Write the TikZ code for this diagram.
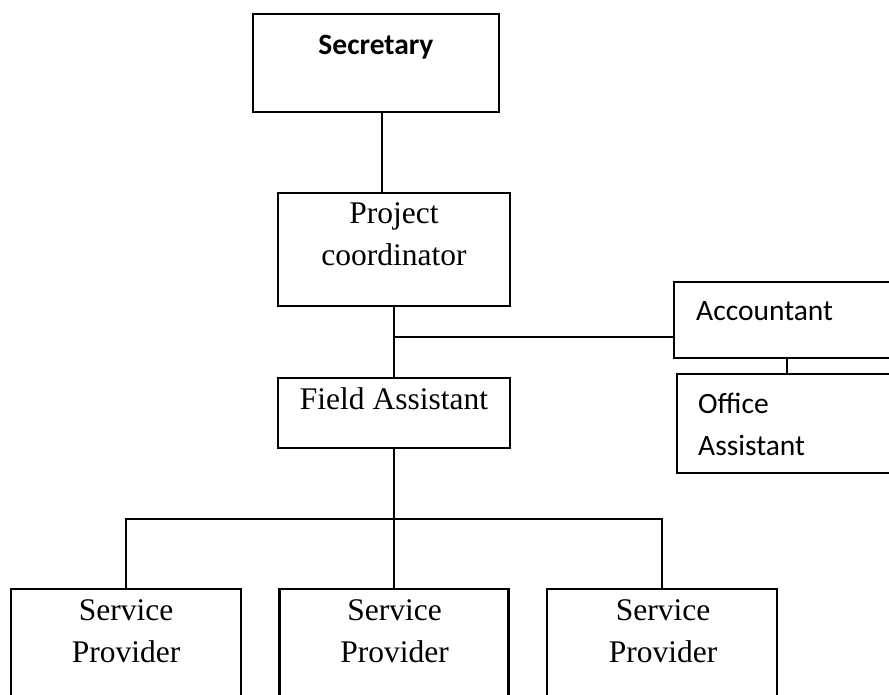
\documentclass[tikz,border=0pt]{standalone}
\usepackage{fontspec}
\setmainfont{Liberation Serif}
\newfontfamily\calibrifont{Carlito}
\begin{document}
\begin{tikzpicture}[x=1pt,y=-1pt,
  box/.style={draw=black,rectangle,inner sep=0pt,line width=2.9pt},
  thinbox/.style={draw=black,rectangle,inner sep=0pt,line width=2.1pt},
  conn/.style={draw=black,line width=2.2pt},
  tms/.style={inner sep=0pt,anchor=base,font=\fontsize{31.5}{42}\selectfont},
  cal/.style={inner sep=0pt,anchor=base west,font=\calibrifont\fontsize{29.5}{42}\selectfont},
  calb/.style={inner sep=0pt,anchor=base,font=\calibrifont\bfseries\fontsize{29.5}{42}\selectfont}]
\useasboundingbox (0,0) rectangle (889,694);
\clip (0,0) rectangle (889,694);
% boxes
\node[thinbox,line width=1.9pt,minimum width=246pt,minimum height=98pt] (sec) at (376,63) {};
\node[box,minimum width=232pt,minimum height=113pt] (pc) at (394,249.5) {};
\node[box,minimum width=232pt,minimum height=70pt] (fa) at (394,413) {};
\node[thinbox,minimum width=226pt,minimum height=76pt] (acc) at (787,320) {};
\node[thinbox,minimum width=220pt,minimum height=99pt] (oa) at (787,423.5) {};
\node[box,minimum width=230pt,minimum height=140pt] (sp1) at (126,659) {};
\node[box,minimum width=229pt,minimum height=140pt] (sp2) at (394,659) {};
\node[box,minimum width=230pt,minimum height=140pt] (sp3) at (662,659) {};
% texts
\node[calb] (tsec) at (376,54) {Secretary};
\node[tms] (tpc1) at (394,223) {Project};
\node[tms] (tpc2) at (394,265) {coordinator};
\node[tms] (tfa) at (394,409) {Field Assistant};
\node[cal] (tacc) at (696,320) {Accountant};
\node[cal] (toa1) at (698,413) {Office};
\node[cal] (toa2) at (698,455) {Assistant};
\node[tms] (ts1a) at (126,620) {Service};
\node[tms] (ts1b) at (126,662) {Provider};
\node[tms] (ts2a) at (394.5,620) {Service};
\node[tms] (ts2b) at (394.5,662) {Provider};
\node[tms] (ts3a) at (663,620) {Service};
\node[tms] (ts3b) at (663,662) {Provider};
% connectors
\coordinate (c1) at (382,0);
\draw[conn] (sec.south -| c1) -- (pc.north -| c1);
\draw[conn] (pc.south) -- (fa.north);
\coordinate (j1) at (394,337);
\draw[conn] (j1) -- (j1 -| acc.west);
\draw[conn] (acc.south) -- (oa.north);
\coordinate (j2) at (394,519);
\draw[conn] (fa.south) -- (sp2.north);
\draw[conn] (sp1.north) -- (sp1.north |- j2) -- (sp3.north |- j2) -- (sp3.north);
\end{tikzpicture}
\end{document}
